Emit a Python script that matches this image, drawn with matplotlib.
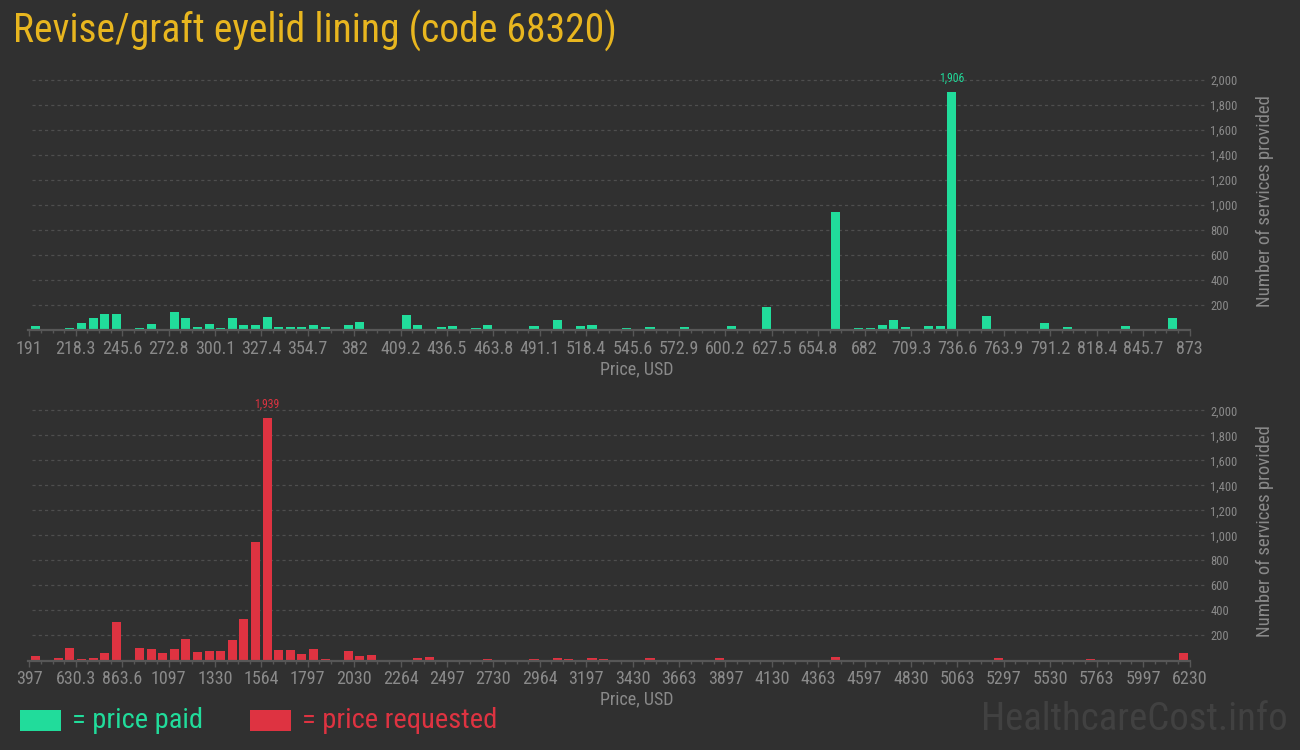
import matplotlib
matplotlib.use('Agg')
import matplotlib.pyplot as plt
from matplotlib.patches import Rectangle
from matplotlib import font_manager
from matplotlib.font_manager import FontProperties
import numpy as np

# ---------------- data ----------------
title = 'Revise/graft eyelid lining (code 68320)'

paid_range = (191, 873)
paid_counts = [29, 0, 0, 13, 53, 92, 124, 124, 0, 13,
               45, 0, 147, 92, 21, 45, 13, 92, 37, 37,
               100, 21, 21, 21, 37, 21, 0, 37, 61, 0,
               0, 0, 116, 37, 0, 21, 29, 0, 13, 37,
               0, 0, 0, 29, 0, 76, 0, 29, 37, 0,
               0, 13, 0, 21, 0, 0, 21, 0, 0, 0,
               29, 0, 0, 187, 0, 0, 0, 0, 0, 944,
               0, 16, 16, 40, 80, 24, 0, 32, 32, 1906,
               0, 0, 112, 0, 0, 0, 8, 56, 0, 24,
               0, 0, 0, 0, 32, 8, 0, 0, 96, 8]
paid_ticks = ['191', '218.3', '245.6', '272.8', '300.1', '327.4', '354.7', '382',
              '409.2', '436.5', '463.8', '491.1', '518.4', '545.6', '572.9', '600.2',
              '627.5', '654.8', '682', '709.3', '736.6', '763.9', '791.2', '818.4',
              '845.7', '873']

req_range = (397, 6230)
req_counts = [37, 0, 21, 101, 13, 21, 61, 307, 0, 101,
              93, 61, 93, 172, 69, 77, 77, 164, 331, 947,
              1939, 85, 85, 53, 93, 13, 0, 77, 37, 45,
              0, 0, 0, 21, 29, 0, 0, 0, 0, 13,
              0, 0, 0, 13, 0, 21, 13, 0, 21, 13,
              0, 0, 0, 21, 0, 0, 0, 0, 0, 21,
              0, 0, 0, 0, 0, 0, 0, 0, 0, 29,
              0, 0, 0, 0, 0, 0, 0, 0, 0, 0,
              0, 0, 0, 21, 0, 0, 0, 0, 0, 0,
              0, 13, 0, 0, 0, 0, 0, 0, 0, 61]
req_ticks = ['397', '630.3', '863.6', '1097', '1330', '1564', '1797', '2030',
             '2264', '2497', '2730', '2964', '3197', '3430', '3663', '3897',
             '4130', '4363', '4597', '4830', '5063', '5297', '5530', '5763',
             '5997', '6230']

y_ticks = [200, 400, 600, 800, 1000, 1200, 1400, 1600, 1800, 2000]
y_tick_labels = ['200', '400', '600', '800', '1,000', '1,200', '1,400', '1,600', '1,800', '2,000']

x_label = 'Price, USD'
y_label = 'Number of services provided'
legend_labels = ['= price paid', '= price requested']
watermark = 'HealthcareCost.info'

# ---------------- style ----------------
BG = '#303030'
GREEN = '#21dc9b'
RED = '#de3341'
GOLD = '#e8b61f'
GRAY = '#8a8a8a'
GRID = '#4e4e4e'
AXIS = '#575757'
WM = '#414141'

COND = ('condensed', 'semi-condensed', 'extra-condensed', 'ultra-condensed')


def is_regular(f):
    w = f.weight
    return f.style == 'normal' and (w in (400, 'normal', 'regular', 'book') or w == 400)


def is_cond(f):
    st = f.stretch
    c = (st in COND) if isinstance(st, str) else (st < 500)
    return c or ('Condensed' in f.name) or ('Narrow' in f.name)


cands = [f for f in font_manager.fontManager.ttflist
         if is_regular(f) and is_cond(f) and 'Mono' not in f.name and 'CJK' not in f.name
         and 'Serif' not in f.name]
pref = ['Roboto', 'Liberation', 'Open Sans', 'Noto Sans', 'Lato', 'Inter', 'DejaVu']


def rank(f):
    for i, p in enumerate(pref):
        if f.name.startswith(p):
            st = f.stretch
            sv = {'ultra-condensed': 0, 'extra-condensed': 1, 'condensed': 2, 'semi-condensed': 3}.get(st, 2) if isinstance(st, str) else st
            return (i, abs(sv - 2) if isinstance(st, str) else abs(sv - 300))
    return (99, 0)


cands.sort(key=rank)
if cands:
    FP = FontProperties(fname=cands[0].fname)
    HAVE_COND = True
else:
    FP = FontProperties(family='Roboto')
    HAVE_COND = False

plt.rcParams['font.family'] = ['Roboto', 'DejaVu Sans']


def fp(size):
    p = FP.copy()
    p.set_size(size)
    return p


W, H = 1300, 750
fig = plt.figure(figsize=(13, 7.5), dpi=100, facecolor=BG)

L_PX, R_PX, EXT_PX = 29.3, 1189.5, 1206.0
TICK_SIZE = 13 if HAVE_COND else 10.5


def draw_panel(counts, rng, ticks, color, base_px, top_px, ylab_center):
    lo, hi = rng
    nb = len(counts)
    span = hi - lo
    extra = (EXT_PX - R_PX) / (R_PX - L_PX) * span
    ax = fig.add_axes([L_PX / W, 1 - base_px / H, (EXT_PX - L_PX) / W, (base_px - top_px) / H])
    ax.set_facecolor('none')
    ax.set_xlim(lo, hi + extra)
    ax.set_ylim(0, 2000)
    edges = np.linspace(lo, hi, nb + 1)
    bw = edges[1] - edges[0]
    centers = edges[:-1] + bw / 2
    vals = np.array(counts)
    ax.bar(centers, vals, width=bw * 0.78, color=color, zorder=3)
    i = int(np.argmax(vals))
    ax.annotate(f'{vals[i]:,}', (centers[i], vals[i]), xytext=(0, 5), textcoords='offset points',
                ha='center', va='bottom', color=color, fontproperties=fp(8.5), annotation_clip=False)
    for yv in y_ticks:
        ax.plot([lo + (32 - L_PX) / (R_PX - L_PX) * span, hi + extra], [yv, yv], color=GRID,
                lw=0.9, ls=(0, (2.5, 2.5)), zorder=1, clip_on=False)
    ax.plot([lo - 1.5 / (R_PX - L_PX) * span, hi], [0, 0], color=AXIS, lw=1.6, zorder=4, clip_on=False)
    for s in ax.spines.values():
        s.set_visible(False)
    major = np.linspace(lo, hi, len(ticks))
    ax.set_xticks(major)
    ax.set_xticklabels(ticks, fontproperties=fp(TICK_SIZE))
    ax.set_xticks(edges, minor=True)
    ax.tick_params(axis='x', which='major', length=4, width=1, color=AXIS, labelcolor=GRAY, pad=3)
    ax.tick_params(axis='x', which='minor', length=2.5, width=1, color=AXIS)
    ax.yaxis.tick_right()
    ax.set_yticks(y_ticks)
    ax.set_yticklabels(y_tick_labels, fontproperties=fp(9))
    ax.tick_params(axis='y', length=0, pad=3, labelcolor=GRAY)
    fig.text(637 / W, 1 - (base_px + 39) / H, x_label, ha='center', va='center', color=GRAY,
             fontproperties=fp(13))
    fig.text(1265 / W, 1 - ylab_center / H, y_label, ha='center', va='center', rotation=90,
             color=GRAY, fontproperties=fp(13.5))
    return ax


draw_panel(paid_counts, paid_range, paid_ticks, GREEN, 330.0, 80.0, 201)
draw_panel(req_counts, req_range, req_ticks, RED, 660.5, 410.3, 531)

fig.text(13 / W, 1 - 31 / H, title, ha='left', va='center', color=GOLD, fontproperties=fp(28.5))

fig.patches.append(Rectangle((20 / W, 1 - 731 / H), 41 / W, 21 / H, transform=fig.transFigure,
                             facecolor=GREEN, edgecolor='none'))
fig.text(72 / W, 1 - 720 / H, legend_labels[0], ha='left', va='center', color=GREEN, fontproperties=fp(20.5))
fig.patches.append(Rectangle((250 / W, 1 - 731 / H), 41 / W, 21 / H, transform=fig.transFigure,
                             facecolor=RED, edgecolor='none'))
fig.text(302 / W, 1 - 720 / H, legend_labels[1], ha='left', va='center', color=RED, fontproperties=fp(20.5))

fig.text(1288 / W, 1 - 719 / H, watermark, ha='right', va='center', color=WM, fontproperties=fp(28))

fig.savefig('out.png', dpi=100, facecolor=BG)
